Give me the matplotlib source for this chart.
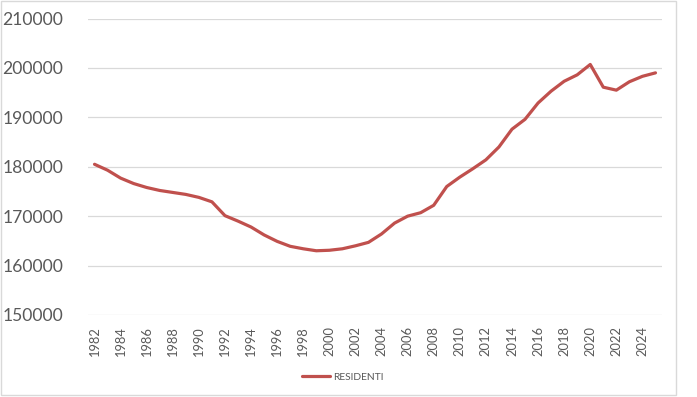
#!/usr/bin/env python3

import matplotlib
matplotlib.use('Agg')
import matplotlib.pyplot as plt
from matplotlib.patches import Rectangle

# Residents per year
years = list(range(1982, 2026))
residenti = [
    180500, 179300, 177700, 176600, 175800, 175200, 174800, 174400, 173800, 172900,
    170100, 169000, 167800, 166200, 164900, 163900, 163400, 163000, 163100, 163400,
    164000, 164700, 166400, 168600, 170000, 170700, 172200, 176000, 177900, 179600,
    181400, 184000, 187600, 189600, 192900, 195300, 197300, 198600, 200700, 196100,
    195500, 197200, 198300, 199000,
]
tick_years = list(range(1982, 2025, 2))
y_ticks = [150000, 160000, 170000, 180000, 190000, 200000, 210000]

W, H = 697, 397
fig = plt.figure(figsize=(W / 100, H / 100), dpi=100)
ax = fig.add_axes([88 / W, (H - 315) / H, (662 - 88) / W, (315 - 18.5) / H])

ax.plot(years, residenti, color='#C0504D', linewidth=2.3, label='RESIDENTI',
        solid_joinstyle='round', solid_capstyle='round', zorder=3)

ax.set_xlim(1981.5, 2025.5)
ax.set_ylim(150000, 210000)
ax.set_yticks(y_ticks)
ax.set_yticklabels([str(v) for v in y_ticks], fontsize=12.6, color='#595959',
                   family=['Lato', 'DejaVu Sans'])
ax.set_xticks(tick_years)
ax.set_xticklabels([str(y) for y in tick_years], rotation=90, fontsize=9.3,
                   color='#595959', family=['Lato', 'DejaVu Sans'])
ax.tick_params(axis='both', length=0)
ax.tick_params(axis='x', pad=8)
ax.tick_params(axis='y', pad=18)

ax.grid(axis='y', color='#D9D9D9', linewidth=0.9)
ax.set_axisbelow(True)
for s in ax.spines.values():
    s.set_visible(False)

fig.legend(loc='center', bbox_to_anchor=(343 / W, (H - 377) / H), frameon=False,
           prop={'family': 'Lato', 'size': 7.4}, handlelength=2.7,
           handletextpad=0.35, labelcolor='#595959')

# light grey chart frame
fig.add_artist(Rectangle((1 / W, 2 / H), 675 / W, 394 / H, transform=fig.transFigure,
                         fill=False, edgecolor='#D9D9D9', linewidth=1))

fig.savefig('out.png', dpi=100)
plt.close(fig)
